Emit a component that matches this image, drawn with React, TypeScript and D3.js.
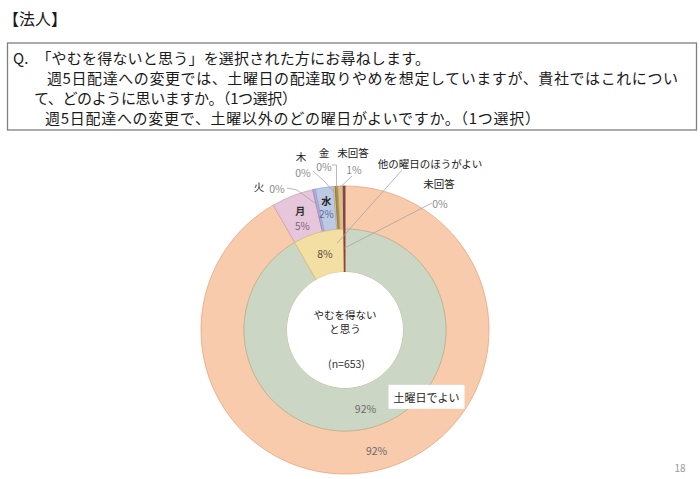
import * as d3 from "d3";

// --- data -------------------------------------------------------------
const QUESTION_LINES = [
  "Q.　「やむを得ないと思う」を選択された方にお尋ねします。",
  "週5日配達への変更では、土曜日の配達取りやめを想定していますが、貴社ではこれについ",
  "て、どのように思いますか。（1つ選択）",
  "週5日配達への変更で、土曜以外のどの曜日がよいですか。（1つ選択）",
];

// inner ring: answer to the first question
const INNER_LABELS = ["土曜日でよい", "他の曜日のほうがよい", "未回答"];
const INNER_VALUES = [91.7, 8.1, 0.2];

// outer ring: which weekday instead of Saturday
const OUTER_LABELS = ["土曜日でよい", "月", "火", "水", "木", "金", "未回答", "未回答(前問)"];
const OUTER_VALUES = [91.7, 4.7, 0.3, 2.0, 0.2, 0.3, 0.6, 0.2];

const SAMPLE_LABEL = "(n=653)";
const CENTER_LINES = ["やむを得ない", "と思う"];
const PAGE_NO = "18";

// --- styles -----------------------------------------------------------
const W = 700;
const H = 479;
const CX = 345;
const CY = 330;
const R_HOLE = 58;
const R_MID = 101;
const R_OUT = 144;
const FONT = "'Noto Sans CJK JP', 'Noto Sans', sans-serif";

// header lines: left edge and width of each line
const Q_X = [13, 47, 34, 45];
const Q_LEN = [417, 631, 263, 495];

const INNER_FILL = ["#CBD6C4", "#F3DFA3", "#A0473C"];
const INNER_STROKE = ["#B7B58E", "#D9BE78", "#8A3A30"];
const OUTER_FILL = ["#F8CBAD", "#E6C6DB", "#B9A9D6", "#BCCAE6", "#D8CBA8", "#A89052", "#DDBE8A", "#8E4E5A"];
const OUTER_STROKE = ["#E8A57C", "#C9A0BC", "#9888BC", "#96A8CF", "#BFAE82", "#8A7438", "#C09E66", "#6E3844"];

const LEADER = "#A6A6A6";
const PCT_OUT = "#8C8C8C";
const PCT_IN = "#6A6A6A";

// callout layout (offsets from the chart centre); leader ends on the slice
type Callout = {
  ring: "inner" | "outer";
  index: number;
  r: number;
  name: string;
  nameAt: [number, number];
  pctAt?: [number, number];
  leader: [number, number][];
  endShift?: [number, number];
};

const CALLOUTS: Callout[] = [
  { ring: "outer", index: 2, r: 128, name: "火", nameAt: [-86, -144], pctAt: [-68, -142], leader: [[-58, -142], [-48, -140]] },
  { ring: "outer", index: 4, r: 138, name: "木", nameAt: [-44, -174], pctAt: [-42, -158], leader: [[-32, -159], [-21, -149]] },
  { ring: "outer", index: 5, r: 143, name: "金", nameAt: [-21, -178], pctAt: [-21, -164], leader: [[-13, -165], [-8.5, -165]] },
  { ring: "outer", index: 6, r: 143, name: "未回答", nameAt: [8, -178], pctAt: [9, -161], leader: [[7, -154]] },
  { ring: "inner", index: 1, r: 79.5, name: "他の曜日のほうがよい", nameAt: [85, -167], leader: [[57, -160]], endShift: [13, -10] },
  { ring: "inner", index: 2, r: 82, name: "未回答", nameAt: [94, -147], pctAt: [95, -127], leader: [[87, -127]] },
];

const pct = (v: number) => `${Math.round(v)}%`;

function polar(angle: number, r: number): [number, number] {
  return [r * Math.sin(angle), -r * Math.cos(angle)];
}

export default function App() {
  const pie = d3.pie<number>().sort(null).value((d) => d);
  const innerArcs = pie(INNER_VALUES);
  const outerArcs = pie(OUTER_VALUES);

  const innerArc = d3.arc<d3.PieArcDatum<number>>().innerRadius(R_HOLE).outerRadius(R_MID);
  const outerArc = d3.arc<d3.PieArcDatum<number>>().innerRadius(R_MID).outerRadius(R_OUT);

  const mid = (a: d3.PieArcDatum<number>) => (a.startAngle + a.endAngle) / 2;
  const midR = (R_HOLE + R_MID) / 2;
  const outR = (R_MID + R_OUT) / 2;

  const satIn = polar(mid(innerArcs[0]), midR);
  const satOut = polar(mid(outerArcs[0]), outR);
  const otherIn = polar(mid(innerArcs[1]), midR);
  const mon = polar(mid(outerArcs[1]), outR);
  const wed = polar(mid(outerArcs[3]), outR);

  const line = d3.line();

  return (
    <svg
      width={W}
      height={H}
      style={{ position: "absolute", left: 0, top: 0, background: "#fff" }}
      fontFamily={FONT}
    >
      <rect width={W} height={H} fill="#fff" />
      <text x={3} y={18} fontSize={16} fill="#1a1a1a" dominantBaseline="central">
        【法人】
      </text>
      <rect x={7.5} y={43} width={689} height={87} fill="#fff" stroke="#7f7f7f" strokeWidth={1.3} />
      {QUESTION_LINES.map((t, i) => (
        <text
          key={i}
          x={Q_X[i]}
          y={57 + i * 20}
          fontSize={15}
          fill="#1a1a1a"
          dominantBaseline="central"
          textLength={Q_LEN[i]}
          lengthAdjust="spacing"
        >
          {t}
        </text>
      ))}

      <g transform={`translate(${CX},${CY})`}>
        {outerArcs.map((a, i) => (
          <path key={`o${i}`} d={outerArc(a) ?? ""} fill={OUTER_FILL[i]} stroke={OUTER_STROKE[i]} strokeWidth={0.8} />
        ))}
        {innerArcs.map((a, i) => (
          <path key={`i${i}`} d={innerArc(a) ?? ""} fill={INNER_FILL[i]} stroke={INNER_STROKE[i]} strokeWidth={0.8} />
        ))}
        <circle r={R_HOLE} fill="#fff" />

        {CALLOUTS.map((c, i) => {
          const arcs = c.ring === "inner" ? innerArcs : outerArcs;
          const vals = c.ring === "inner" ? INNER_VALUES : OUTER_VALUES;
          const end = polar(mid(arcs[c.index]), c.r);
          const shift = c.endShift ?? [0, 0];
          const pts: [number, number][] = [...c.leader, [end[0] + shift[0], end[1] + shift[1]]];
          return (
            <g key={`c${i}`}>
              <path d={line(pts) ?? ""} fill="none" stroke={LEADER} strokeWidth={0.8} />
              <text x={c.nameAt[0]} y={c.nameAt[1]} fontSize={10.5} fill="#222" textAnchor="middle" dominantBaseline="central">
                {c.name}
              </text>
              {c.pctAt ? (
                <text x={c.pctAt[0]} y={c.pctAt[1]} fontSize={10.5} fill={PCT_OUT} textAnchor="middle" dominantBaseline="central">
                  {pct(vals[c.index])}
                </text>
              ) : null}
            </g>
          );
        })}

        {/* labels inside the slices */}
        <text x={mon[0]} y={mon[1] - 5} fontSize={10} fill="#333" fontWeight={700} textAnchor="middle" dominantBaseline="central">
          {OUTER_LABELS[1]}
        </text>
        <text x={mon[0] + 2} y={mon[1] + 9.5} fontSize={10} fill="#7A6680" textAnchor="middle" dominantBaseline="central">
          {pct(OUTER_VALUES[1])}
        </text>
        <text x={wed[0] - 1} y={wed[1] - 8.5} fontSize={10} fill="#222" fontWeight={700} textAnchor="middle" dominantBaseline="central">
          {OUTER_LABELS[3]}
        </text>
        <text x={wed[0] - 1} y={wed[1] + 5} fontSize={10} fill="#5E6E99" textAnchor="middle" dominantBaseline="central">
          {pct(OUTER_VALUES[3])}
        </text>
        <text x={otherIn[0] + 1} y={otherIn[1]} fontSize={10.5} fill="#5A5040" textAnchor="middle" dominantBaseline="central">
          {pct(INNER_VALUES[1])}
        </text>
        <text x={satIn[0]} y={satIn[1] + 2} fontSize={10.5} fill={PCT_IN} textAnchor="middle" dominantBaseline="central">
          {pct(INNER_VALUES[0])}
        </text>
        <text x={satOut[0]} y={satOut[1] + 2} fontSize={10.5} fill={PCT_IN} textAnchor="middle" dominantBaseline="central">
          {pct(OUTER_VALUES[0])}
        </text>

        {/* label box for the main slice */}
        <rect x={satIn[0] + 23} y={satIn[1] - 22} width={76} height={24} fill="#fff" />
        <text x={satIn[0] + 61} y={satIn[1] - 10} fontSize={11} fill="#222" textAnchor="middle" dominantBaseline="central">
          {INNER_LABELS[0]}
        </text>

        {/* centre */}
        {CENTER_LINES.map((t, i) => (
          <text key={t} x={0} y={-16 + i * 14.5} fontSize={10.5} fill="#222" textAnchor="middle" dominantBaseline="central">
            {t}
          </text>
        ))}
        <text x={1.5} y={33} fontSize={10.5} fill="#333" textAnchor="middle" dominantBaseline="central">
          {SAMPLE_LABEL}
        </text>
      </g>

      <text x={680} y={467} fontSize={10} fill="#9a9a9a" textAnchor="middle" dominantBaseline="central">
        {PAGE_NO}
      </text>
    </svg>
  );
}
